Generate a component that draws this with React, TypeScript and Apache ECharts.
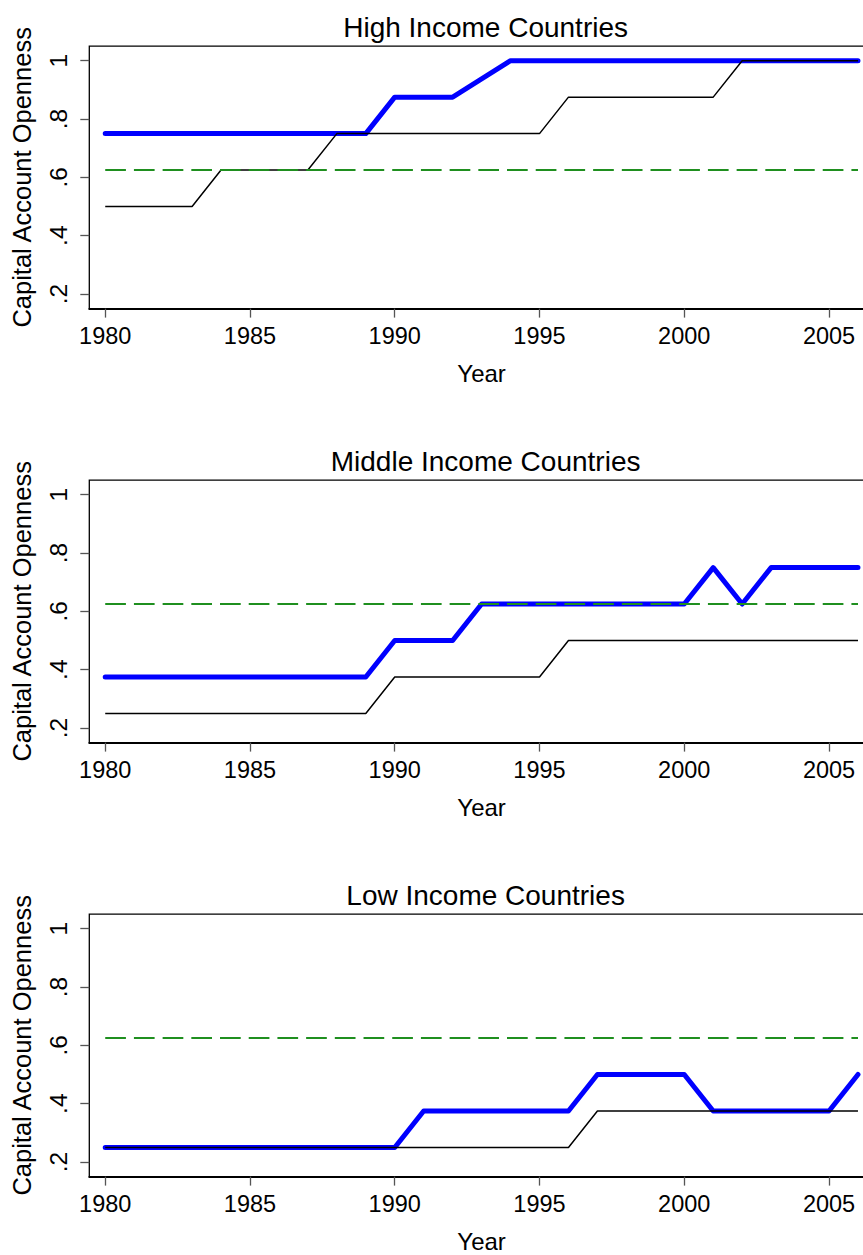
import React, { useEffect, useRef } from "react";
import * as echarts from "echarts";

const years = [1980, 1981, 1982, 1983, 1984, 1985, 1986, 1987, 1988, 1989, 1990, 1991, 1992, 1993, 1994, 1995, 1996, 1997, 1998, 1999, 2000, 2001, 2002, 2003, 2004, 2005, 2006];

const panelTitles = ["High Income Countries", "Middle Income Countries", "Low Income Countries"];

const highBlue = [0.75, 0.75, 0.75, 0.75, 0.75, 0.75, 0.75, 0.75, 0.75, 0.75, 0.875, 0.875, 0.875, 0.9375, 1, 1, 1, 1, 1, 1, 1, 1, 1, 1, 1, 1, 1];
const highBlack = [0.5, 0.5, 0.5, 0.5, 0.625, 0.625, 0.625, 0.625, 0.75, 0.75, 0.75, 0.75, 0.75, 0.75, 0.75, 0.75, 0.875, 0.875, 0.875, 0.875, 0.875, 0.875, 1, 1, 1, 1, 1];

const middleBlue = [0.375, 0.375, 0.375, 0.375, 0.375, 0.375, 0.375, 0.375, 0.375, 0.375, 0.5, 0.5, 0.5, 0.625, 0.625, 0.625, 0.625, 0.625, 0.625, 0.625, 0.625, 0.75, 0.625, 0.75, 0.75, 0.75, 0.75];
const middleBlack = [0.25, 0.25, 0.25, 0.25, 0.25, 0.25, 0.25, 0.25, 0.25, 0.25, 0.375, 0.375, 0.375, 0.375, 0.375, 0.375, 0.5, 0.5, 0.5, 0.5, 0.5, 0.5, 0.5, 0.5, 0.5, 0.5, 0.5];

const lowBlue = [0.25, 0.25, 0.25, 0.25, 0.25, 0.25, 0.25, 0.25, 0.25, 0.25, 0.25, 0.375, 0.375, 0.375, 0.375, 0.375, 0.375, 0.5, 0.5, 0.5, 0.5, 0.375, 0.375, 0.375, 0.375, 0.375, 0.5];
const lowBlack = [0.25, 0.25, 0.25, 0.25, 0.25, 0.25, 0.25, 0.25, 0.25, 0.25, 0.25, 0.25, 0.25, 0.25, 0.25, 0.25, 0.25, 0.375, 0.375, 0.375, 0.375, 0.375, 0.375, 0.375, 0.375, 0.375, 0.375];

const benchmark = 0.625;

const xTicks = [1980, 1985, 1990, 1995, 2000, 2005];
const yTicks = [0.2, 0.4, 0.6, 0.8, 1];
const yTickLabels = [".2", ".4", ".6", ".8", "1"];

const xAxisTitle = "Year";
const yAxisTitle = "Capital Account Openness";

const blueSets = [highBlue, middleBlue, lowBlue];
const blackSets = [highBlack, middleBlack, lowBlack];

const FONT = "'Liberation Sans', Arial, Helvetica, sans-serif";

export default function App() {
  const ref = useRef<HTMLDivElement>(null);

  useEffect(() => {
    if (!ref.current) return;
    const chart = echarts.init(ref.current, undefined, { renderer: "svg" });

    const PANEL = 434;
    const gridLeft = 89.3;
    const gridTop = 46.1;
    const gridWidth = 784.6;
    const gridHeight = 262.5;

    const grids: any[] = [];
    const xAxes: any[] = [];
    const yAxes: any[] = [];
    const titles: any[] = [];
    const series: any[] = [];

    for (let i = 0; i < 3; i++) {
      grids.push({
        left: gridLeft,
        top: gridTop + PANEL * i,
        width: gridWidth,
        height: gridHeight,
        show: true,
        borderColor: "#000",
        borderWidth: 1.3,
        backgroundColor: "transparent",
      });
      titles.push({
        text: panelTitles[i],
        left: gridLeft + gridWidth / 2 - 1,
        textAlign: "center",
        top: 8 + PANEL * i,
        textStyle: { fontFamily: FONT, fontSize: 28, fontWeight: "normal", color: "#000" },
      });
      xAxes.push({
        type: "value",
        gridIndex: i,
        min: 1979.45,
        max: 2006.55,
        splitLine: { show: false },
        axisLine: { show: true, lineStyle: { color: "#000", width: 2 } },
        axisTick: { show: true, length: 9, customValues: xTicks, lineStyle: { color: "#555", width: 1.3 } },
        axisLabel: {
          customValues: xTicks,
          margin: 15,
          fontFamily: FONT,
          fontSize: 23.5,
          color: "#000",
          formatter: (v: number) => String(v),
        },
        name: xAxisTitle,
        nameLocation: "middle",
        nameGap: 53,
        nameTextStyle: { fontFamily: FONT, fontSize: 24, color: "#000" },
      });
      yAxes.push({
        type: "value",
        gridIndex: i,
        min: 0.15,
        max: 1.05,
        splitLine: { show: false },
        axisLine: { show: false },
        axisTick: { show: true, length: 9, customValues: yTicks, lineStyle: { color: "#555", width: 1.3 } },
        axisLabel: {
          customValues: yTicks,
          rotate: 90,
          margin: 18,
          fontFamily: FONT,
          fontSize: 24.5,
          color: "#000",
          formatter: (v: number) => {
            const idx = yTicks.findIndex((t) => Math.abs(t - v) < 1e-6);
            return idx >= 0 ? yTickLabels[idx] : "";
          },
        },
        name: yAxisTitle,
        nameLocation: "middle",
        nameGap: 54,
        nameRotate: 90,
        nameTextStyle: { fontFamily: FONT, fontSize: 25.5, color: "#000" },
      });

      series.push({
        type: "line",
        xAxisIndex: i,
        yAxisIndex: i,
        data: years.map((y, k) => [y, blueSets[i][k]]),
        showSymbol: false,
        symbol: "none",
        lineStyle: { color: "#0000ff", width: 5, cap: "round", join: "round" },
        z: 2,
      });
      series.push({
        type: "line",
        xAxisIndex: i,
        yAxisIndex: i,
        data: years.map((y, k) => [y, blackSets[i][k]]),
        showSymbol: false,
        symbol: "none",
        lineStyle: { color: "#000", width: 1.5 },
        z: 3,
      });
      series.push({
        type: "line",
        xAxisIndex: i,
        yAxisIndex: i,
        data: [
          [years[0], benchmark],
          [years[years.length - 1], benchmark],
        ],
        showSymbol: false,
        symbol: "none",
        lineStyle: { color: "#1f8f1f", width: 2, type: [20.7, 8] },
        z: 4,
      });
    }

    chart.setOption({
      animation: false,
      backgroundColor: "#fff",
      title: titles,
      grid: grids,
      xAxis: xAxes,
      yAxis: yAxes,
      series,
    });

    return () => {
      chart.dispose();
    };
  }, []);

  return (
    <div style={{ position: "absolute", left: 0, top: 0, width: 863, height: 1255, overflow: "hidden", background: "#fff" }}>
      <div ref={ref} style={{ width: 900, height: 1255 }} />
    </div>
  );
}
